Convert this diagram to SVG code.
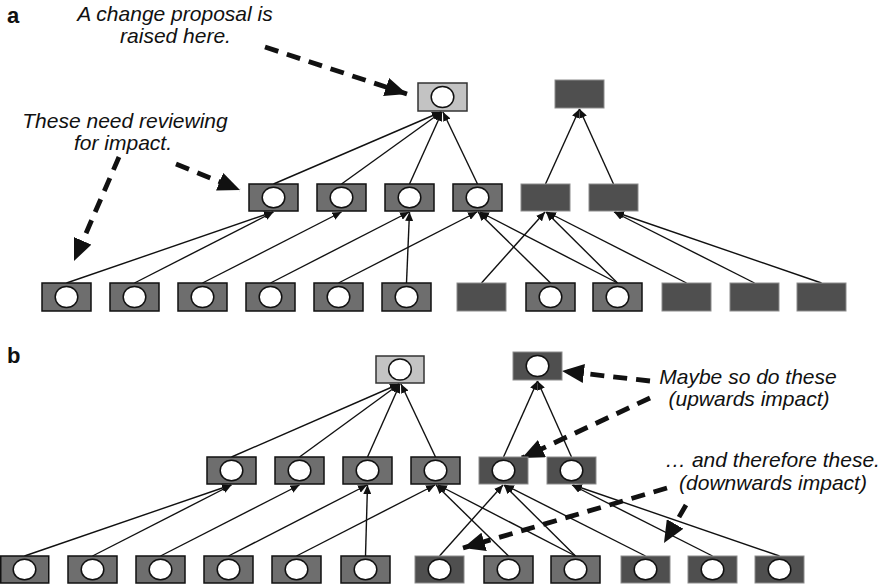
<svg xmlns="http://www.w3.org/2000/svg" width="885" height="587" viewBox="0 0 885 587">
<style>
.m{fill:#6e6e6e;stroke:#111;stroke-width:1.5}
.d{fill:#4f4f4f;stroke:#8c8c8c;stroke-width:1}
.l{fill:#c3c3c3;stroke:#333;stroke-width:1.5}
.c{fill:#fff;stroke:#111;stroke-width:1.5}
.e{stroke:#111;stroke-width:1.4;fill:none;marker-end:url(#sa)}
.k{stroke:#111;stroke-width:4.8;fill:none;stroke-dasharray:14 9;marker-end:url(#la)}
.t{font-family:"Liberation Sans",Arial,Helvetica,sans-serif;font-style:italic;font-size:21px;fill:#111;text-anchor:middle}
.lab{font-family:"Liberation Sans",Arial,Helvetica,sans-serif;font-weight:bold;font-size:22px;fill:#111}
</style>
<defs>
<marker id="sa" markerUnits="userSpaceOnUse" markerWidth="9" markerHeight="8" refX="9" refY="4" orient="auto"><path d="M0,0 L9,4 L0,8 z" fill="#111"/></marker>
<marker id="la" markerUnits="userSpaceOnUse" markerWidth="23" markerHeight="19" refX="22" refY="9.5" orient="auto"><path d="M0,0 L22,9.5 L0,19 z" fill="#111"/></marker>
</defs>

<text class="lab" x="7" y="23">a</text>
<text class="lab" x="7" y="363">b</text>

<g id="connectors">
<!-- part a -->
<line class="e" x1="273.5" y1="184" x2="441" y2="112"/>
<line class="e" x1="341.5" y1="184" x2="441.5" y2="112"/>
<line class="e" x1="409.5" y1="184" x2="442" y2="112"/>
<line class="e" x1="477.5" y1="184" x2="443" y2="112"/>
<line class="e" x1="545.5" y1="184" x2="579.5" y2="109"/>
<line class="e" x1="613.5" y1="184" x2="579.5" y2="109"/>
<line class="e" x1="66.5" y1="283" x2="273" y2="212"/>
<line class="e" x1="134.5" y1="283" x2="273.5" y2="212"/>
<line class="e" x1="202.5" y1="283" x2="341.5" y2="212"/>
<line class="e" x1="270.5" y1="283" x2="409" y2="212"/>
<line class="e" x1="338.5" y1="283" x2="477" y2="212"/>
<line class="e" x1="406.5" y1="283" x2="409.5" y2="212"/>
<line class="e" x1="481.5" y1="283" x2="545" y2="212"/>
<line class="e" x1="550.5" y1="283" x2="478" y2="212"/>
<line class="e" x1="617.5" y1="283" x2="480" y2="212"/>
<line class="e" x1="617.5" y1="283" x2="546" y2="212"/>
<line class="e" x1="686.5" y1="283" x2="547" y2="212"/>
<line class="e" x1="754.5" y1="283" x2="614" y2="212"/>
<line class="e" x1="821.5" y1="283" x2="615" y2="212"/>
<!-- part b -->
<line class="e" x1="231.5" y1="457" x2="399" y2="384"/>
<line class="e" x1="299.5" y1="457" x2="399.5" y2="384"/>
<line class="e" x1="367.5" y1="457" x2="400" y2="384"/>
<line class="e" x1="435.5" y1="457" x2="401" y2="384"/>
<line class="e" x1="503.5" y1="457" x2="537.5" y2="381"/>
<line class="e" x1="571.5" y1="457" x2="537.5" y2="381"/>
<line class="e" x1="24.5" y1="556" x2="231" y2="485"/>
<line class="e" x1="92.5" y1="556" x2="231.5" y2="485"/>
<line class="e" x1="160.5" y1="556" x2="299.5" y2="485"/>
<line class="e" x1="228.5" y1="556" x2="367" y2="485"/>
<line class="e" x1="296.5" y1="556" x2="435" y2="485"/>
<line class="e" x1="365.5" y1="556" x2="367.5" y2="485"/>
<line class="e" x1="439.5" y1="556" x2="503" y2="485"/>
<line class="e" x1="508.5" y1="556" x2="436" y2="485"/>
<line class="e" x1="575.5" y1="556" x2="438" y2="485"/>
<line class="e" x1="575.5" y1="556" x2="504" y2="485"/>
<line class="e" x1="645.5" y1="556" x2="505" y2="485"/>
<line class="e" x1="712.5" y1="556" x2="572" y2="485"/>
<line class="e" x1="779.5" y1="556" x2="573" y2="485"/>
<!-- dashed annotation arrows -->
<line class="k" x1="265" y1="47" x2="407" y2="94"/>
<line class="k" x1="176" y1="164" x2="240" y2="190"/>
<line class="k" x1="119" y1="157" x2="74" y2="261"/>
<line class="k" x1="650" y1="381" x2="562" y2="371"/>
<line class="k" x1="650" y1="398" x2="522" y2="458"/>
<line class="k" x1="667" y1="488" x2="463" y2="548"/>
<line class="k" x1="686" y1="505" x2="664" y2="543"/>
</g>

<!-- part a nodes -->
<g id="a-top"><rect class="l" x="418" y="83" width="49" height="28"/><ellipse class="c" cx="442.5" cy="97" rx="11.3" ry="10.5"/></g>
<g id="a-top2"><rect class="d" x="555" y="80" width="49" height="28"/></g>
<g id="a-m1"><rect class="m" x="249" y="184" width="49" height="27"/><ellipse class="c" cx="273.5" cy="197.5" rx="11.3" ry="10.3"/></g>
<g id="a-m2"><rect class="m" x="317" y="184" width="49" height="27"/><ellipse class="c" cx="341.5" cy="197.5" rx="11.3" ry="10.3"/></g>
<g id="a-m3"><rect class="m" x="385" y="184" width="49" height="27"/><ellipse class="c" cx="409.5" cy="197.5" rx="11.3" ry="10.3"/></g>
<g id="a-m4"><rect class="m" x="453" y="184" width="49" height="27"/><ellipse class="c" cx="477.5" cy="197.5" rx="11.3" ry="10.3"/></g>
<g id="a-m5"><rect class="d" x="521" y="184" width="49" height="27"/></g>
<g id="a-m6"><rect class="d" x="589" y="184" width="49" height="27"/></g>
<g id="a-b1"><rect class="m" x="42" y="283" width="49" height="28"/><ellipse class="c" cx="66.5" cy="297" rx="11.3" ry="10.5"/></g>
<g id="a-b2"><rect class="m" x="110" y="283" width="49" height="28"/><ellipse class="c" cx="134.5" cy="297" rx="11.3" ry="10.5"/></g>
<g id="a-b3"><rect class="m" x="178" y="283" width="49" height="28"/><ellipse class="c" cx="202.5" cy="297" rx="11.3" ry="10.5"/></g>
<g id="a-b4"><rect class="m" x="246" y="283" width="49" height="28"/><ellipse class="c" cx="270.5" cy="297" rx="11.3" ry="10.5"/></g>
<g id="a-b5"><rect class="m" x="314" y="283" width="49" height="28"/><ellipse class="c" cx="338.5" cy="297" rx="11.3" ry="10.5"/></g>
<g id="a-b6"><rect class="m" x="382" y="283" width="49" height="28"/><ellipse class="c" cx="406.5" cy="297" rx="11.3" ry="10.5"/></g>
<g id="a-b7"><rect class="d" x="457" y="283" width="49" height="28"/></g>
<g id="a-b8"><rect class="m" x="526" y="283" width="49" height="28"/><ellipse class="c" cx="550.5" cy="297" rx="11.3" ry="10.5"/></g>
<g id="a-b9"><rect class="m" x="593" y="283" width="49" height="28"/><ellipse class="c" cx="617.5" cy="297" rx="11.3" ry="10.5"/></g>
<g id="a-b10"><rect class="d" x="662" y="283" width="49" height="28"/></g>
<g id="a-b11"><rect class="d" x="730" y="283" width="49" height="28"/></g>
<g id="a-b12"><rect class="d" x="797" y="283" width="49" height="28"/></g>

<!-- part b nodes -->
<g id="b-top"><rect class="l" x="376" y="356" width="48" height="27"/><ellipse class="c" cx="400" cy="369.5" rx="11.3" ry="10.5"/></g>
<g id="b-top2"><rect class="d" x="513" y="352" width="49" height="28"/><ellipse class="c" cx="537.5" cy="366" rx="11.3" ry="10.5"/></g>
<g id="b-m1"><rect class="m" x="207" y="457" width="49" height="27"/><ellipse class="c" cx="231.5" cy="470.5" rx="11.3" ry="10.3"/></g>
<g id="b-m2"><rect class="m" x="275" y="457" width="49" height="27"/><ellipse class="c" cx="299.5" cy="470.5" rx="11.3" ry="10.3"/></g>
<g id="b-m3"><rect class="m" x="343" y="457" width="49" height="27"/><ellipse class="c" cx="367.5" cy="470.5" rx="11.3" ry="10.3"/></g>
<g id="b-m4"><rect class="m" x="411" y="457" width="49" height="27"/><ellipse class="c" cx="435.5" cy="470.5" rx="11.3" ry="10.3"/></g>
<g id="b-m5"><rect class="d" x="479" y="457" width="49" height="27"/><ellipse class="c" cx="503.5" cy="470.5" rx="11.3" ry="10.3"/></g>
<g id="b-m6"><rect class="d" x="547" y="457" width="49" height="27"/><ellipse class="c" cx="571.5" cy="470.5" rx="11.3" ry="10.3"/></g>
<g id="b-b1"><rect class="m" x="0.75" y="556" width="48" height="27"/><ellipse class="c" cx="24.5" cy="569.5" rx="11.3" ry="10.3"/></g>
<g id="b-b2"><rect class="m" x="68" y="556" width="49" height="27"/><ellipse class="c" cx="92.5" cy="569.5" rx="11.3" ry="10.3"/></g>
<g id="b-b3"><rect class="m" x="136" y="556" width="49" height="27"/><ellipse class="c" cx="160.5" cy="569.5" rx="11.3" ry="10.3"/></g>
<g id="b-b4"><rect class="m" x="204" y="556" width="49" height="27"/><ellipse class="c" cx="228.5" cy="569.5" rx="11.3" ry="10.3"/></g>
<g id="b-b5"><rect class="m" x="272" y="556" width="49" height="27"/><ellipse class="c" cx="296.5" cy="569.5" rx="11.3" ry="10.3"/></g>
<g id="b-b6"><rect class="m" x="341" y="556" width="49" height="27"/><ellipse class="c" cx="365.5" cy="569.5" rx="11.3" ry="10.3"/></g>
<g id="b-b7"><rect class="d" x="415" y="556" width="49" height="27"/><ellipse class="c" cx="439.5" cy="569.5" rx="11.3" ry="10.3"/></g>
<g id="b-b8"><rect class="m" x="484" y="556" width="49" height="27"/><ellipse class="c" cx="508.5" cy="569.5" rx="11.3" ry="10.3"/></g>
<g id="b-b9"><rect class="m" x="551" y="556" width="49" height="27"/><ellipse class="c" cx="575.5" cy="569.5" rx="11.3" ry="10.3"/></g>
<g id="b-b10"><rect class="d" x="621" y="556" width="49" height="27"/><ellipse class="c" cx="645.5" cy="569.5" rx="11.3" ry="10.3"/></g>
<g id="b-b11"><rect class="d" x="688" y="556" width="49" height="27"/><ellipse class="c" cx="712.5" cy="569.5" rx="11.3" ry="10.3"/></g>
<g id="b-b12"><rect class="d" x="755" y="556" width="49" height="27"/><ellipse class="c" cx="779.5" cy="569.5" rx="11.3" ry="10.3"/></g>

<g id="notes">
<text class="t" x="175" y="21">A change proposal is</text>
<text class="t" x="175.5" y="43">raised here.</text>
<text class="t" x="125" y="128">These need reviewing</text>
<text class="t" x="123" y="150">for impact.</text>
<text class="t" x="748" y="384">Maybe so do these</text>
<text class="t" x="749" y="406">(upwards impact)</text>
<text class="t" x="772.5" y="467">… and therefore these.</text>
<text class="t" x="773" y="490">(downwards impact)</text>
</g>
</svg>
